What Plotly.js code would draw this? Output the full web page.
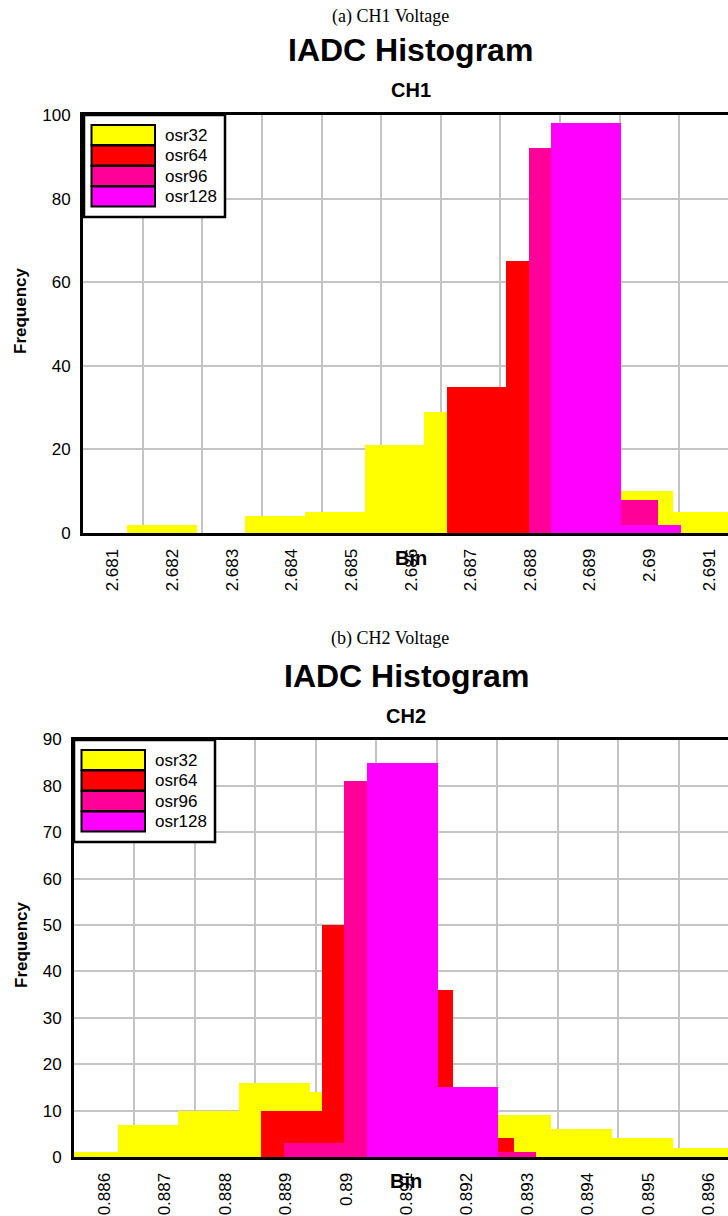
<!DOCTYPE html>
<html>
<head>
<meta charset="utf-8">
<script src="https://cdn.plot.ly/plotly-3.0.1.min.js"></script>
<style>
  html, body { margin: 0; padding: 0; background: #ffffff; overflow: hidden; }
  #chart { width: 760px; height: 1216px; }
</style>
</head>
<body>
<div id="chart"></div>
<script>
// ---------------- data ----------------
const seriesNames = ['osr32', 'osr64', 'osr96', 'osr128'];
const seriesColors = ['#FFFF00', '#FF0000', '#FF0099', '#FF00FF'];

// CH1 axis ticks
const ch1TickVals = [2.681, 2.682, 2.683, 2.684, 2.685, 2.686, 2.687, 2.688, 2.689, 2.690, 2.691];
const ch1TickText = ['2.681', '2.682', '2.683', '2.684', '2.685', '2.686', '2.687', '2.688', '2.689', '2.69', '2.691'];

// CH1 histogram bins (left edge, right edge, count)
const ch1_osr32_lo  = [2.68123, 2.68322, 2.68423, 2.68523, 2.68622, 2.68940, 2.69040];
const ch1_osr32_hi  = [2.68241, 2.68423, 2.68523, 2.68622, 2.68722, 2.69040, 2.69140];
const ch1_osr32_cnt = [2, 4, 5, 21, 29, 10, 5];

const ch1_osr64_lo  = [2.68660, 2.68760];
const ch1_osr64_hi  = [2.68760, 2.68860];
const ch1_osr64_cnt = [35, 65];

const ch1_osr96_lo  = [2.68798, 2.68915];
const ch1_osr96_hi  = [2.68898, 2.69015];
const ch1_osr96_cnt = [92, 8];

const ch1_osr128_lo  = [2.68835, 2.68952];
const ch1_osr128_hi  = [2.68952, 2.69052];
const ch1_osr128_cnt = [98, 2];

// CH2 axis ticks
const ch2TickVals = [0.886, 0.887, 0.888, 0.889, 0.890, 0.891, 0.892, 0.893, 0.894, 0.895, 0.896];
const ch2TickText = ['0.886', '0.887', '0.888', '0.889', '0.89', '0.891', '0.892', '0.893', '0.894', '0.895', '0.896'];

// CH2 histogram bins
const ch2_osr32_lo  = [0.88523, 0.88622, 0.88722, 0.88823, 0.88940, 0.89240, 0.89339, 0.89440, 0.89541];
const ch2_osr32_hi  = [0.88622, 0.88722, 0.88823, 0.88940, 0.89040, 0.89339, 0.89440, 0.89541, 0.89641];
const ch2_osr32_cnt = [1, 7, 10, 16, 14, 9, 6, 4, 2];

const ch2_osr64_lo  = [0.88860, 0.88960, 0.89077, 0.89177];
const ch2_osr64_hi  = [0.88960, 0.89060, 0.89177, 0.89277];
const ch2_osr64_cnt = [10, 50, 36, 4];

const ch2_osr96_lo  = [0.88897, 0.88997, 0.89215];
const ch2_osr96_hi  = [0.88997, 0.89097, 0.89315];
const ch2_osr96_cnt = [3, 81, 1];

const ch2_osr128_lo  = [0.89034, 0.89152];
const ch2_osr128_hi  = [0.89152, 0.89252];
const ch2_osr128_cnt = [85, 15];

// ---------------- layout helpers ----------------
const W = 760, H = 1216;
const fx = p => p / W;
const fy = p => 1 - p / H;
const FONT = 'Liberation Sans, Arial, sans-serif';
const SERIF = 'Liberation Serif, Times New Roman, serif';
const GRID = '#c4c4c4';

function histTrace(lo, hi, cnt, idx, xa, ya) {
  return {
    type: 'bar',
    x: lo.map((l, i) => (l + hi[i]) / 2),
    width: lo.map((l, i) => hi[i] - l),
    y: cnt,
    name: seriesNames[idx],
    marker: { color: seriesColors[idx], line: { width: 0 } },
    xaxis: xa, yaxis: ya,
    showlegend: false,
    hoverinfo: 'skip'
  };
}

const data = [
  histTrace(ch1_osr32_lo, ch1_osr32_hi, ch1_osr32_cnt, 0, 'x', 'y'),
  histTrace(ch1_osr64_lo, ch1_osr64_hi, ch1_osr64_cnt, 1, 'x', 'y'),
  histTrace(ch1_osr96_lo, ch1_osr96_hi, ch1_osr96_cnt, 2, 'x', 'y'),
  histTrace(ch1_osr128_lo, ch1_osr128_hi, ch1_osr128_cnt, 3, 'x', 'y'),
  histTrace(ch2_osr32_lo, ch2_osr32_hi, ch2_osr32_cnt, 0, 'x2', 'y2'),
  histTrace(ch2_osr64_lo, ch2_osr64_hi, ch2_osr64_cnt, 1, 'x2', 'y2'),
  histTrace(ch2_osr96_lo, ch2_osr96_hi, ch2_osr96_cnt, 2, 'x2', 'y2'),
  histTrace(ch2_osr128_lo, ch2_osr128_hi, ch2_osr128_cnt, 3, 'x2', 'y2')
];

function xAxis(domain, range, vals, text, anchor) {
  return {
    domain: domain, range: range, anchor: anchor,
    tickmode: 'array', tickvals: vals, ticktext: text,
    tickangle: -90, tickfont: { family: FONT, size: 17, color: '#000' },
    ticks: '', ticklabelstandoff: 6,
    showgrid: false, zeroline: false,
    minor: { tickmode: 'array', tickvals: vals.map(v => v + 0.0005), showgrid: true, gridcolor: GRID, gridwidth: 2, ticks: '' },
    showline: true, mirror: true, linecolor: '#000', linewidth: 3
  };
}
function yAxis(domain, range, dtick, anchor) {
  return {
    domain: domain, range: range, anchor: anchor,
    tick0: 0, dtick: dtick,
    tickfont: { family: FONT, size: 17, color: '#000' },
    ticks: '', ticklabelstandoff: 6,
    showgrid: true, gridcolor: GRID, gridwidth: 2, zeroline: false,
    showline: true, mirror: true, linecolor: '#000', linewidth: 3
  };
}

const shapes = [];
const annotations = [];

function txt(text, x, y, size, bold, extra) {
  annotations.push(Object.assign({
    text: bold ? '<b>' + text + '</b>' : text,
    xref: 'paper', yref: 'paper', x: fx(x), y: fy(y),
    xanchor: 'center', yanchor: 'middle', showarrow: false,
    font: { family: FONT, size: size, color: '#000' }
  }, extra || {}));
}

function legend(x0, y0) {
  shapes.push({ type: 'rect', xref: 'paper', yref: 'paper',
    x0: fx(x0), x1: fx(x0 + 141), y0: fy(y0), y1: fy(y0 + 102),
    fillcolor: '#fff', line: { color: '#000', width: 2.5 }, layer: 'above' });
  seriesNames.forEach((n, i) => {
    const top = y0 + 10 + i * 20.5;
    shapes.push({ type: 'rect', xref: 'paper', yref: 'paper',
      x0: fx(x0 + 7.5), x1: fx(x0 + 71), y0: fy(top), y1: fy(top + 20),
      fillcolor: seriesColors[i], line: { color: '#000', width: 2 }, layer: 'above' });
    annotations.push({ text: n, xref: 'paper', yref: 'paper',
      x: fx(x0 + 79), y: fy(top + 10), xanchor: 'left', yanchor: 'middle',
      showarrow: false, font: { family: FONT, size: 17, color: '#000' } });
  });
}

// panel (a)
txt('(a) CH1 Voltage', 390, 17, 18, false, { font: { family: SERIF, size: 18, color: '#000' } });
txt('IADC Histogram', 411, 50, 32, true);
txt('CH1', 411, 90, 20, true);
txt('Frequency', 21, 311, 17, true, { textangle: -90 });
txt('Bin', 411, 558, 20, true);
legend(84, 115);

// panel (b)
txt('(b) CH2 Voltage', 390, 639, 18, false, { font: { family: SERIF, size: 18, color: '#000' } });
txt('IADC Histogram', 406, 676, 32, true);
txt('CH2', 406, 716, 20, true);
txt('Frequency', 21, 945, 17, true, { textangle: -90 });
txt('Bin', 406, 1181, 20, true);
legend(74, 740);

const layout = {
  width: W, height: H,
  margin: { l: 0, r: 0, t: 0, b: 0 },
  paper_bgcolor: '#fff', plot_bgcolor: '#fff',
  barmode: 'overlay', bargap: 0,
  showlegend: false,
  font: { family: FONT, color: '#000' },
  xaxis: xAxis([fx(83), fx(739)], [2.6805, 2.6915], ch1TickVals, ch1TickText, 'y'),
  yaxis: yAxis([fy(533), fy(115)], [0, 100], 20, 'x'),
  xaxis2: xAxis([fx(74), fx(739)], [0.8855, 0.8965], ch2TickVals, ch2TickText, 'y2'),
  yaxis2: yAxis([fy(1157), fy(739.5)], [0, 90], 10, 'x2'),
  shapes: shapes,
  annotations: annotations
};

Plotly.newPlot('chart', data, layout, { displayModeBar: false, staticPlot: true });
</script>
</body>
</html>
